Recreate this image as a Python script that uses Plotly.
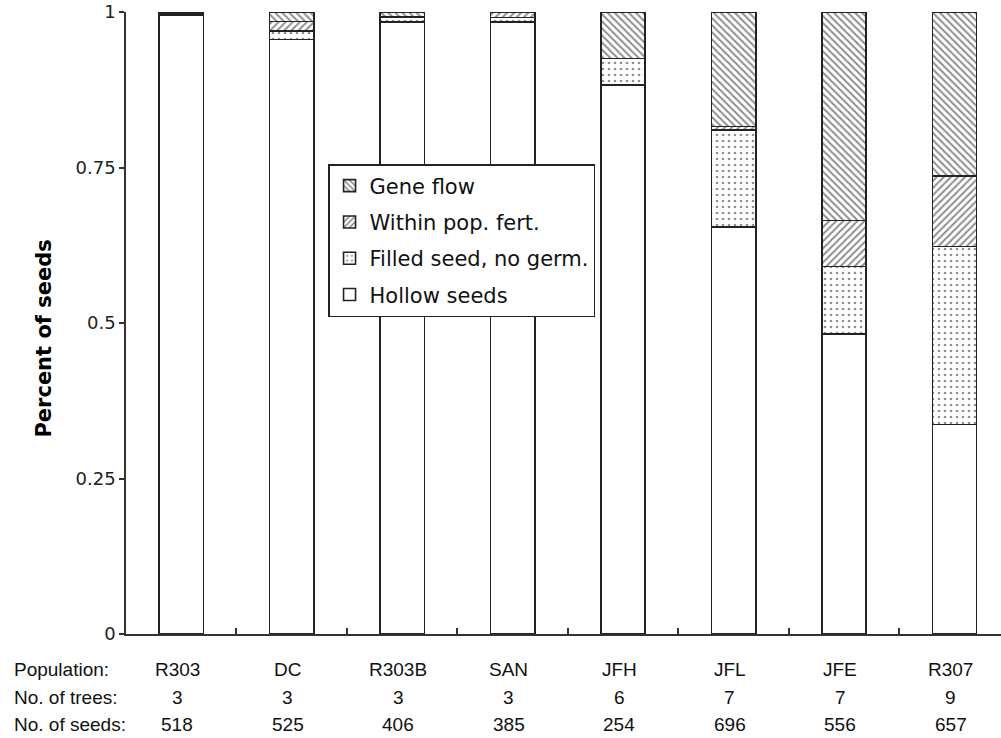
import plotly.graph_objects as go

populations = ["R303", "DC", "R303B", "SAN", "JFH", "JFL", "JFE", "R307"]
n_trees = [3, 3, 3, 3, 6, 7, 7, 9]
n_seeds = [518, 525, 406, 385, 254, 696, 556, 657]

hollow = [0.995, 0.956, 0.984, 0.984, 0.883, 0.654, 0.482, 0.337]
filled_no_germ = [0.000, 0.013, 0.008, 0.007, 0.042, 0.156, 0.109, 0.286]
within_pop = [0.002, 0.016, 0.000, 0.009, 0.000, 0.006, 0.074, 0.113]
gene_flow = [0.003, 0.015, 0.008, 0.000, 0.075, 0.184, 0.335, 0.264]

y_ticks = [0, 0.25, 0.5, 0.75, 1]
y_ticktext = ["0", "0.25", "0.5", "0.75", "1"]

row_labels = ["Population:", "No. of trees:", "No. of seeds:"]
y_title = "Percent of seeds"

series = [
    ("Hollow seeds", hollow, ""),
    ("Filled seed, no germ.", filled_no_germ, "."),
    ("Within pop. fert.", within_pop, "/"),
    ("Gene flow", gene_flow, "\\"),
]

fig = go.Figure()
for i, (name, vals, shape) in enumerate(series):
    if shape == ".":
        pat = dict(shape=".", fgcolor="#222222", bgcolor="white", size=6, solidity=0.16)
    elif shape:
        pat = dict(shape=shape, fgcolor="#1a1a1a", bgcolor="white", size=5, solidity=0.4)
    else:
        pat = dict(shape="")
    fig.add_trace(go.Bar(
        x=populations, y=vals, name=name, width=0.4,
        legendgroup=f"g{i}", legendrank=len(series) - i,
        marker=dict(color="white", line=dict(color="#222222", width=1.6),
                    pattern=pat),
    ))

ANNOT_FONT = dict(family="Liberation Sans, Arial", size=19, color="#111111")
annotations = []
row_shift = [-35, -63, -90]
for r, lab in enumerate(row_labels):
    annotations.append(dict(x=-0.1303, y=0, xref="paper", yref="paper",
                            xanchor="left", yanchor="middle", yshift=row_shift[r],
                            text=lab, showarrow=False, font=ANNOT_FONT))
for c, pop in enumerate(populations):
    for r, txt in enumerate([pop, str(n_trees[c]), str(n_seeds[c])]):
        annotations.append(dict(x=pop, y=0, xref="x", yref="paper",
                                xanchor="center", yanchor="middle",
                                yshift=row_shift[r], xshift=-4,
                                text=txt, showarrow=False, font=ANNOT_FONT))
annotations.append(dict(x=-0.0937, y=0.475, xref="paper", yref="paper",
                        xanchor="center", yanchor="middle", textangle=-90,
                        text=f"<b>{y_title}</b>", showarrow=False,
                        font=dict(family="DejaVu Sans", size=21, color="#000000")))

fig.update_layout(
    width=1001, height=738,
    margin=dict(l=126, r=0, t=12, b=104, autoexpand=False),
    plot_bgcolor="white", paper_bgcolor="white",
    barmode="stack",
    showlegend=True,
    legend=dict(x=0.2309, y=0.7556, xanchor="left", yanchor="top",
                traceorder="grouped", tracegroupgap=6,
                bordercolor="#222222", borderwidth=1.5, bgcolor="white",
                font=dict(family="DejaVu Sans", size=21, color="#111111"),
                itemwidth=30),
    xaxis=dict(type="category", range=[-0.5, 7.42], showline=True,
               linecolor="#333333", linewidth=1.5, ticks="inside", ticklen=6,
               tickwidth=1.5, tickcolor="#333333", tickson="boundaries",
               showticklabels=False, showgrid=False, zeroline=False,
               automargin=False),
    yaxis=dict(range=[0, 1], tickvals=y_ticks, ticktext=y_ticktext,
               showline=True, linecolor="#333333", linewidth=1.5,
               ticks="outside", ticklen=5, tickwidth=1.5, tickcolor="#333333",
               showgrid=False, zeroline=False, ticklabeloverflow="allow",
               automargin=False,
               tickfont=dict(family="DejaVu Sans", size=18, color="#222222")),
    annotations=annotations,
)

fig.write_html("out.html", config={"displayModeBar": False},
               post_script="document.body.style.margin='0';document.body.style.overflow='hidden';")
